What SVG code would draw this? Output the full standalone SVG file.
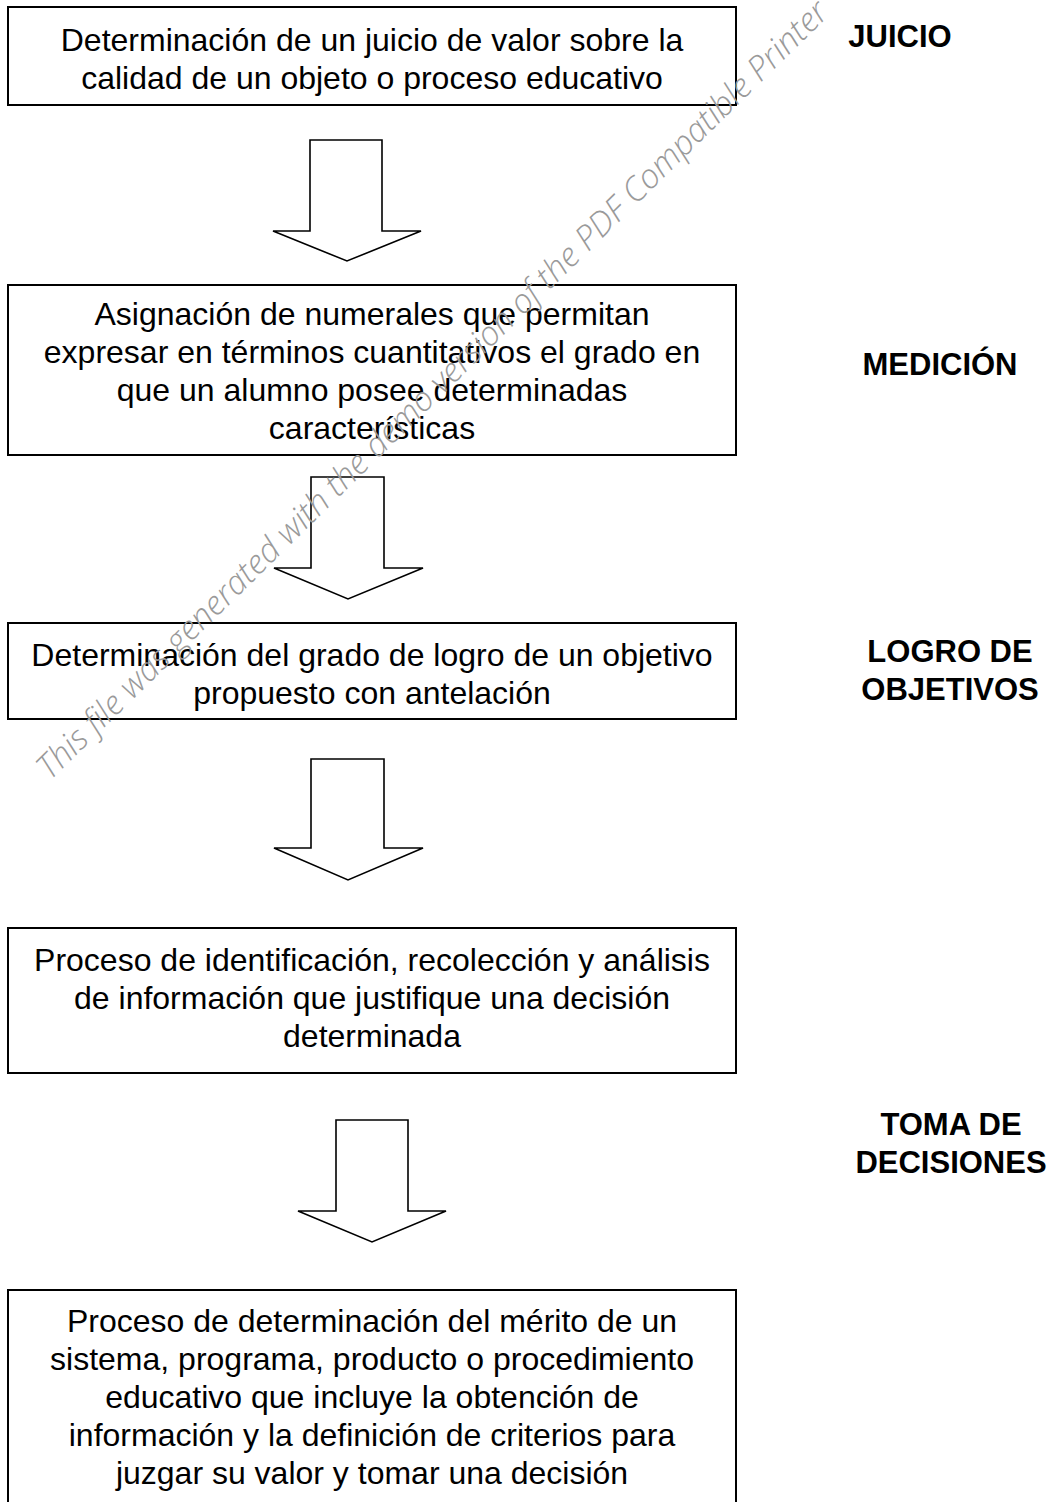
<svg xmlns="http://www.w3.org/2000/svg" width="1051" height="1502" viewBox="0 0 1051 1502">
<style>
.box{fill:#fff;stroke:#000;stroke-width:2}
.arrow{fill:#fff;stroke:#000;stroke-width:1.6;stroke-linejoin:miter}
.t{font-family:"Liberation Sans",Arial,sans-serif;font-size:32px;fill:#000;text-anchor:middle}
.lbl{font-family:"Liberation Sans",Arial,sans-serif;font-size:31px;font-weight:bold;fill:#000;text-anchor:middle}
.wm{font-family:"Open Sans","Liberation Sans",sans-serif;font-size:33.5px;font-style:italic;font-weight:300;fill:#9a9a9a}
</style>
<rect width="1051" height="1502" fill="#fff"/>
<g id="connectors">
<polygon class="arrow" points="310,140 382,140 382,231 421,231 347,261 273,231 310,231"/>
<polygon class="arrow" points="311,477 384,477 384,568 423,568 348,599 274,568 311,568"/>
<polygon class="arrow" points="311,759 384,759 384,848 423,848 348,880 274,848 311,848"/>
<polygon class="arrow" points="336,1120 408,1120 408,1211 446,1211 372,1242 298,1211 336,1211"/>
</g>
<g id="node-juicio-def">
<rect class="box" x="8" y="7" width="728" height="98"/>
<text class="t" x="372" y="51">Determinación de un juicio de valor sobre la</text>
<text class="t" x="372" y="89">calidad de un objeto o proceso educativo</text>
</g>
<g id="node-medicion-def">
<rect class="box" x="8" y="285" width="728" height="170"/>
<text class="t" x="372" y="325">Asignación de numerales que permitan</text>
<text class="t" x="372" y="363">expresar en términos cuantitativos el grado en</text>
<text class="t" x="372" y="401">que un alumno posee determinadas</text>
<text class="t" x="372" y="439">características</text>
</g>
<g id="node-logro-def">
<rect class="box" x="8" y="623" width="728" height="96"/>
<text class="t" x="372" y="666">Determinación del grado de logro de un objetivo</text>
<text class="t" x="372" y="704">propuesto con antelación</text>
</g>
<g id="node-decision-def">
<rect class="box" x="8" y="928" width="728" height="145"/>
<text class="t" x="372" y="971">Proceso de identificación, recolección y análisis</text>
<text class="t" x="372" y="1009">de información que justifique una decisión</text>
<text class="t" x="372" y="1047">determinada</text>
</g>
<g id="node-evaluacion-def">
<rect class="box" x="8" y="1290" width="728" height="230"/>
<text class="t" x="372" y="1332">Proceso de determinación del mérito de un</text>
<text class="t" x="372" y="1370">sistema, programa, producto o procedimiento</text>
<text class="t" x="372" y="1408">educativo que incluye la obtención de</text>
<text class="t" x="372" y="1446">información y la definición de criterios para</text>
<text class="t" x="372" y="1484">juzgar su valor y tomar una decisión</text>
</g>
<g id="label-juicio">
<text class="lbl" x="900" y="47">JUICIO</text>
</g>
<g id="label-medicion">
<text class="lbl" x="940" y="375">MEDICIÓN</text>
</g>
<g id="label-logro">
<text class="lbl" x="950" y="662">LOGRO DE</text>
<text class="lbl" x="950" y="700">OBJETIVOS</text>
</g>
<g id="label-toma">
<text class="lbl" x="951" y="1135">TOMA DE</text>
<text class="lbl" x="951" y="1173">DECISIONES</text>
</g>
<g id="watermark">
<text class="wm" x="50" y="781" transform="rotate(-44.5 50 781)">This file was generated with the demo version of the PDF Compatible Printer</text>
</g>
</svg>
